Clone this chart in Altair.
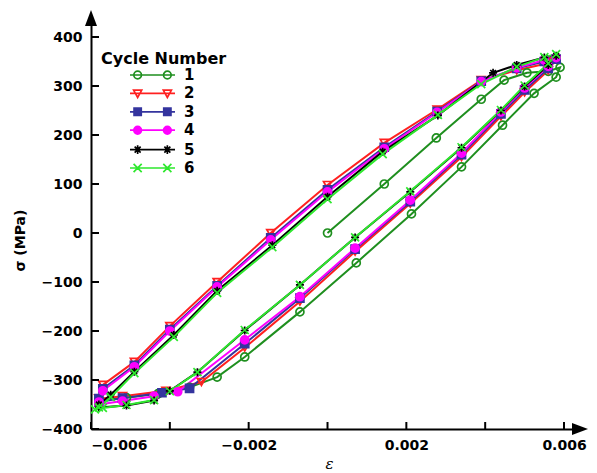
import altair as alt
import pandas as pd

# ---- data ----
cycles = ["1", "2", "3", "4", "5", "6"]

eps_1 = [0.0, 0.00144, 0.00276, 0.0039, 0.00448, 0.00506, 0.0056, 0.0059, 0.0058, 0.00524, 0.00444, 0.0034,
         0.00213, 0.00073, -0.0007, -0.0021, -0.0028, -0.0035, -0.0043, -0.0051, -0.0058]
sig_1 = [0, 100, 194, 273, 312, 327, 330, 338, 318, 285, 220, 135,
         39, -61, -161, -253, -294, -315, -328, -336, -340]

eps_2 = [-0.0058, -0.0057, -0.0049, -0.0040, -0.0028, -0.00144, 0.0, 0.00144, 0.00278, 0.0039, 0.0048, 0.0055,
         0.0057, 0.0056, 0.0050, 0.0044, 0.0034, 0.0021, 0.0007, -0.0007, -0.0021, -0.0032, -0.0041, -0.0052, -0.0058]
sig_2 = [-338, -310, -263, -190, -100, 0, 98, 184, 252, 312, 332, 345,
         350, 332, 287, 238, 155, 60, -38, -140, -234, -304, -322, -333, -338]

eps_3 = [-0.0058, -0.0057, -0.0049, -0.0040, -0.0028, -0.00144, 0.0, 0.00144, 0.00278, 0.0039, 0.0048, 0.0055,
         0.0058, 0.0056, 0.0050, 0.0044, 0.0034, 0.0021, 0.0007, -0.0007, -0.0021, -0.0035, -0.0042, -0.0052, -0.0058]
sig_3 = [-338, -318, -270, -197, -108, -10, 88, 175, 248, 310, 336, 350,
         355, 336, 292, 243, 160, 64, -33, -133, -226, -317, -326, -337, -345]

eps_4 = [-0.0058, -0.0057, -0.0049, -0.0040, -0.0028, -0.00144, 0.0, 0.00144, 0.00278, 0.0039, 0.0048, 0.0055,
         0.0058, 0.0056, 0.0050, 0.0044, 0.0034, 0.0021, 0.0007, -0.0007, -0.0021, -0.0038, -0.0044, -0.0052, -0.0058]
sig_4 = [-345, -322, -273, -200, -110, -14, 84, 172, 246, 309, 337, 353,
         358, 340, 296, 247, 163, 67, -31, -130, -218, -324, -333, -343, -350]

eps_5 = [-0.0058, -0.0055, -0.0049, -0.0039, -0.0028, -0.0014, 0.0, 0.0014, 0.0028, 0.0042, 0.0048, 0.0055,
         0.0058, 0.0056, 0.0050, 0.0044, 0.0034, 0.0021, 0.0007, -0.0007, -0.0021, -0.0033, -0.0040, -0.0044,
         -0.0051, -0.0058]
sig_5 = [-350, -330, -283, -208, -118, -25, 74, 166, 240, 327, 343, 358,
         362, 343, 299, 250, 174, 84, -9, -106, -199, -284, -322, -342, -352, -356]

eps_6 = [-0.0058, -0.0055, -0.0049, -0.0039, -0.0028, -0.0014, 0.0, 0.0014, 0.0028, 0.0039, 0.0048, 0.0055,
         0.0058, 0.0056, 0.0050, 0.0044, 0.0034, 0.0021, 0.0007, -0.0007, -0.0021, -0.0033, -0.0040, -0.0044,
         -0.0051, -0.0057, -0.0059]
sig_6 = [-356, -335, -286, -212, -122, -29, 69, 161, 241, 304, 339, 359,
         365, 346, 301, 251, 175, 85, -9, -106, -198, -284, -323, -341, -351, -357, -360]

x_ticks = [-0.006, -0.004, -0.002, 0.0, 0.002, 0.004, 0.006]
y_ticks = [-400, -300, -200, -100, 0, 100, 200, 300, 400]

series = {"1": (eps_1, sig_1), "2": (eps_2, sig_2), "3": (eps_3, sig_3),
          "4": (eps_4, sig_4), "5": (eps_5, sig_5), "6": (eps_6, sig_6)}

rows = []
for c, (ex, sy) in series.items():
    for i, (e, s) in enumerate(zip(ex, sy)):
        rows.append({"cycle": c, "eps": e, "sig": s, "idx": i})
df = pd.DataFrame(rows)

# ---- styles ----
W, H = 488, 411
FONT = "DejaVu Sans"
colors = ["#1f8f1f", "#ff2020", "#34349e", "#ff00ff", "#000000", "#2ee82e"]
fills = ["transparent", "transparent", "#34349e", "#ff00ff", "transparent", "transparent"]

star = "M-1,0L1,0M0,-1L0,1M-0.7,-0.7L0.7,0.7M-0.7,0.7L0.7,-0.7"
xmark = "M-1,-1L1,1M-1,1L1,-1"
shapes = ["circle", "triangle-down", "square", "circle", star, xmark]


def circ(cx, r=0.85):
    return f"M{cx + r},0A{r},{r} 0 1,0 {cx - r},0A{r},{r} 0 1,0 {cx + r},0"


def tri(cx, r=0.9):
    return f"M{cx - r},{-r * 0.8}L{cx + r},{-r * 0.8}L{cx},{r}Z"


def sq(cx, r=0.8):
    return f"M{cx - r},{-r}L{cx + r},{-r}L{cx + r},{r}L{cx - r},{r}Z"


def st(cx, r=0.95):
    a = r * 0.7
    return (f"M{cx - r},0L{cx + r},0M{cx},{-r}L{cx},{r}"
            f"M{cx - a},{-a}L{cx + a},{a}M{cx - a},{a}L{cx + a},{-a}")


def xm(cx, r=0.9):
    return f"M{cx - r},{-r}L{cx + r},{r}M{cx - r},{r}L{cx + r},{-r}"


base = "M-5,0L5,0"
leg_shapes = [base + f(-3.3) + f(3.3) for f in (circ, tri, sq, circ, st, xm)]

xs = alt.Scale(domain=[-0.006, 0.00638], nice=False, zero=False)
ys = alt.Scale(domain=[-400, 438.8], nice=False, zero=False)

x_enc = alt.X("eps:Q", scale=xs,
              axis=alt.Axis(values=x_ticks, format=".3~f", title="ε", ticks=False, grid=False,
                            labelPadding=9, titleFontStyle="italic", titleFontWeight="normal",
                            titleFont="DejaVu Serif", titleFontSize=15, titlePadding=4, titleX=238))
y_enc = alt.Y("sig:Q", scale=ys,
              axis=alt.Axis(values=y_ticks, title="σ (MPa)", ticks=False, grid=False,
                            labelPadding=9, titlePadding=14, titleY=222))

stroke_scale = alt.Scale(domain=cycles, range=colors)
fill_scale = alt.Scale(domain=cycles, range=fills)

lines = alt.Chart(df).mark_line(strokeWidth=2).encode(
    x=x_enc, y=y_enc,
    stroke=alt.Stroke("cycle:N", scale=stroke_scale, legend=None),
    order="idx:Q",
)

points = alt.Chart(df).mark_point(size=64, strokeWidth=1.7, opacity=1).encode(
    x=alt.X("eps:Q", scale=xs), y=alt.Y("sig:Q", scale=ys),
    stroke=alt.Stroke("cycle:N", scale=stroke_scale, legend=None),
    fill=alt.Fill("cycle:N", scale=fill_scale, legend=None),
    shape=alt.Shape("cycle:N", scale=alt.Scale(domain=cycles, range=shapes), legend=None),
)

leg = alt.Legend(title="Cycle Number", orient="none", legendX=10, legendY=32.5, padding=0,
                 titleFont=FONT, titleFontSize=16, titleFontWeight="bold", titleColor="black",
                 titlePadding=1,
                 labelFont=FONT, labelFontSize=15, labelFontWeight="bold", labelColor="black",
                 symbolSize=81, symbolOffset=44, labelOffset=24, rowPadding=2.4,
                 symbolStrokeWidth=1.7)

legend_layer = alt.Chart(df).transform_filter("false").mark_point(size=81, strokeWidth=1.7, opacity=1).encode(
    stroke=alt.Stroke("cycle:N", scale=stroke_scale, legend=leg),
    fill=alt.Fill("cycle:N", scale=fill_scale, legend=leg),
    shape=alt.Shape("cycle:N", scale=alt.Scale(domain=cycles, range=leg_shapes), legend=leg),
)

xt = pd.DataFrame({"t": x_ticks})
yt = pd.DataFrame({"t": y_ticks})
xtick_marks = alt.Chart(xt).mark_rule(color="black", strokeWidth=2).encode(
    x=alt.X("t:Q", scale=xs), y=alt.value(H), y2=alt.value(H - 7))
ytick_marks = alt.Chart(yt).mark_rule(color="black", strokeWidth=2).encode(
    y=alt.Y("t:Q", scale=ys), x=alt.value(0), x2=alt.value(8))

arrow_r = alt.Chart(xt.head(1)).mark_point(
    shape="M-1,-0.75L1,0L-1,0.75Z", size=256, filled=True, color="black", opacity=1
).encode(x=alt.value(W + 1), y=alt.value(H))
arrow_u = alt.Chart(xt.head(1)).mark_point(
    shape="M-0.75,1L0,-1L0.75,1Z", size=256, filled=True, color="black", opacity=1
).encode(x=alt.value(0), y=alt.value(0))

chart = alt.layer(lines, points, legend_layer, xtick_marks, ytick_marks, arrow_r, arrow_u).resolve_scale(
    stroke="independent", fill="independent", shape="independent"
).properties(
    width=W, height=H, padding={"left": 5, "top": 2, "right": 0, "bottom": 0}
).configure_view(stroke=None).configure_axis(
    domainColor="black", domainWidth=2, labelFont=FONT, labelFontSize=14, labelFontWeight="bold",
    labelColor="black", titleFont=FONT, titleFontSize=14, titleFontWeight="bold", titleColor="black",
)

chart.save("out.html", embed_options={"renderer": "svg", "actions": False})
